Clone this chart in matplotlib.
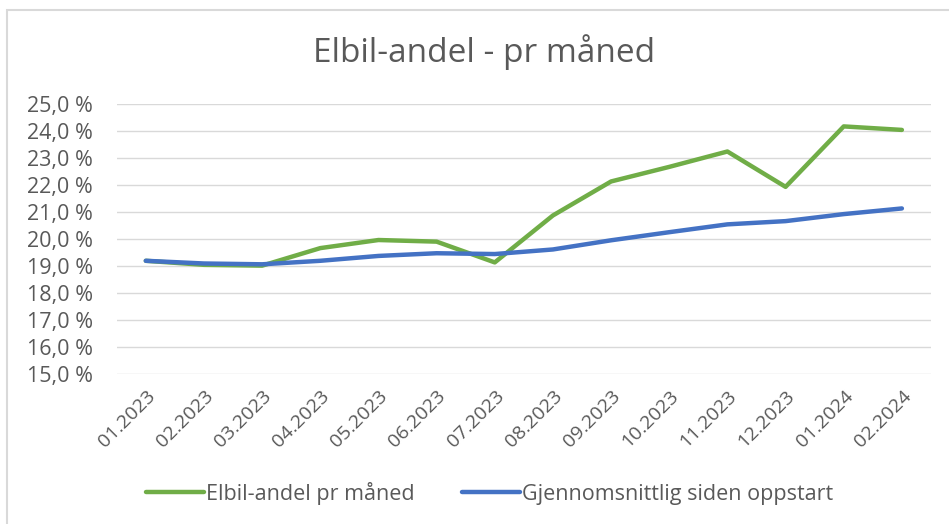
import matplotlib.pyplot as plt
from matplotlib.patches import Rectangle
from matplotlib.ticker import FuncFormatter

months = ["01.2023", "02.2023", "03.2023", "04.2023", "05.2023", "06.2023", "07.2023",
          "08.2023", "09.2023", "10.2023", "11.2023", "12.2023", "01.2024", "02.2024"]
elbil_andel = [19.2, 19.05, 19.02, 19.67, 19.97, 19.91, 19.14,
               20.88, 22.14, 22.68, 23.25, 21.94, 24.18, 24.05]
snitt = [19.2, 19.1, 19.07, 19.2, 19.38, 19.48, 19.45,
         19.62, 19.96, 20.26, 20.55, 20.67, 20.93, 21.14]
yticks = [15, 16, 17, 18, 19, 20, 21, 22, 23, 24, 25]

plt.rcParams["font.family"] = ["Open Sans", "DejaVu Sans"]
txt = "#595959"

fig = plt.figure(figsize=(9.49, 5.24), dpi=100)
ax = fig.add_axes([0.123, 0.286, 0.858, 0.515])

x = range(len(months))
ax.plot(x, elbil_andel, color="#70AD47", lw=3.2, solid_capstyle="round",
        label="Elbil-andel pr måned")
ax.plot(x, snitt, color="#4472C4", lw=3.2, solid_capstyle="round",
        label="Gjennomsnittlig siden oppstart")

ax.set_xlim(-0.5, len(months) - 0.5)
ax.set_ylim(15, 25)
ax.set_yticks(yticks)
ax.yaxis.set_major_formatter(FuncFormatter(lambda v, p: f"{v:.1f} %".replace(".", ",")))
ax.set_xticks(list(x))
ax.set_xticklabels(months, rotation=45, ha="right", rotation_mode="anchor")
ax.tick_params(axis="both", length=0, colors=txt)
ax.tick_params(axis="x", pad=9, labelsize=14)
ax.tick_params(axis="y", pad=17, labelsize=15.5)
for lbl in ax.get_yticklabels():
    lbl.set_horizontalalignment("right")
ax.grid(axis="y", color="#D9D9D9", lw=1)
ax.set_axisbelow(True)
for s in ax.spines.values():
    s.set_visible(False)

fig.text(0.51, 0.9, "Elbil-andel - pr måned", ha="center", va="center",
         fontsize=24, color=txt)

fig.legend(loc="center", bbox_to_anchor=(0.516, 0.059), ncol=2, frameon=False,
           fontsize=15.5, labelcolor=txt, handlelength=2.7, handletextpad=0.1,
           columnspacing=2.2)

fig.patches.append(Rectangle((0.007, -0.02), 1.1, 1.0, transform=fig.transFigure,
                             fill=False, edgecolor="#D9D9D9", lw=1.5))

fig.savefig("out.png", dpi=100)
